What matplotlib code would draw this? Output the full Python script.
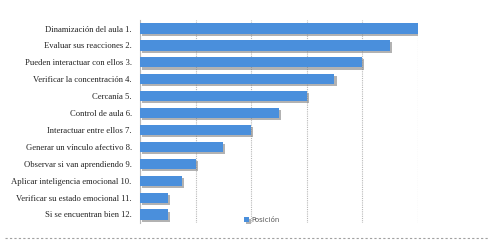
import matplotlib
matplotlib.use("Agg")
import matplotlib.pyplot as plt
import matplotlib.patheffects as pe
from matplotlib.lines import Line2D

# ── dados ──────────────────────────────────────────────────────────────────
CATEGORIAS = [
    "Dinamización del aula 1.",
    "Evaluar sus reacciones 2.",
    "Pueden interactuar con ellos 3.",
    "Verificar la concentración 4.",
    "Cercanía 5.",
    "Control de aula 6.",
    "Interactuar entre ellos 7.",
    "Generar un vínculo afectivo 8.",
    "Observar si van aprendiendo 9.",
    "Aplicar inteligencia emocional 10.",
    "Verificar su estado emocional 11.",
    "Si se encuentran bien 12.",
]
POSICION = [10, 9, 8, 7, 6, 5, 4, 3, 2, 1.5, 1, 1]

COLOR_BAR = "#4a8fdc"

fig = plt.figure(figsize=(4.9, 2.45), dpi=100)
ax = fig.add_axes([0.2857, 0.09, 0.567, 0.828])

y = list(range(len(CATEGORIAS)))
bars = ax.barh(y, POSICION, height=0.6, color=COLOR_BAR, zorder=3,
               label="Posición")
for b in bars:
    b.set_path_effects([
        pe.SimplePatchShadow(offset=(1.5, -1.5), shadow_rgbFace="#808080", alpha=0.6),
        pe.Normal(),
    ])

ax.set_xlim(0, 10)
ax.set_ylim(11.5, -0.5)
ax.set_xticks(range(0, 11, 2))
ax.tick_params(axis="x", length=0, labelbottom=False)
ax.tick_params(axis="y", length=0, pad=6)
ax.set_yticks(y)
ax.set_yticklabels(CATEGORIAS, fontsize=6.2, family="Liberation Serif", color="#222222")
ax.grid(axis="x", color="#b8b8b8", linestyle=(0, (1, 1)), linewidth=0.8, zorder=0)
for s in ("top", "right", "bottom"):
    ax.spines[s].set_visible(False)
ax.spines["left"].set_color("#b8b8b8")
ax.spines["left"].set_linestyle((0, (1, 1)))
ax.spines["left"].set_linewidth(0.8)

ax.legend(loc="lower center", bbox_to_anchor=(0.44, -0.03), fontsize=5,
          frameon=False, handlelength=0.7, handleheight=0.7, handletextpad=0.4,
          labelcolor="#595959")

# linha tracejada inferior (borda do quadro)
fig.add_artist(Line2D([0.01, 0.995], [0.03, 0.03], transform=fig.transFigure,
                      color="#a0a0a0", linestyle=(0, (2, 2)), linewidth=0.8))

fig.savefig("out.png", dpi=100)
